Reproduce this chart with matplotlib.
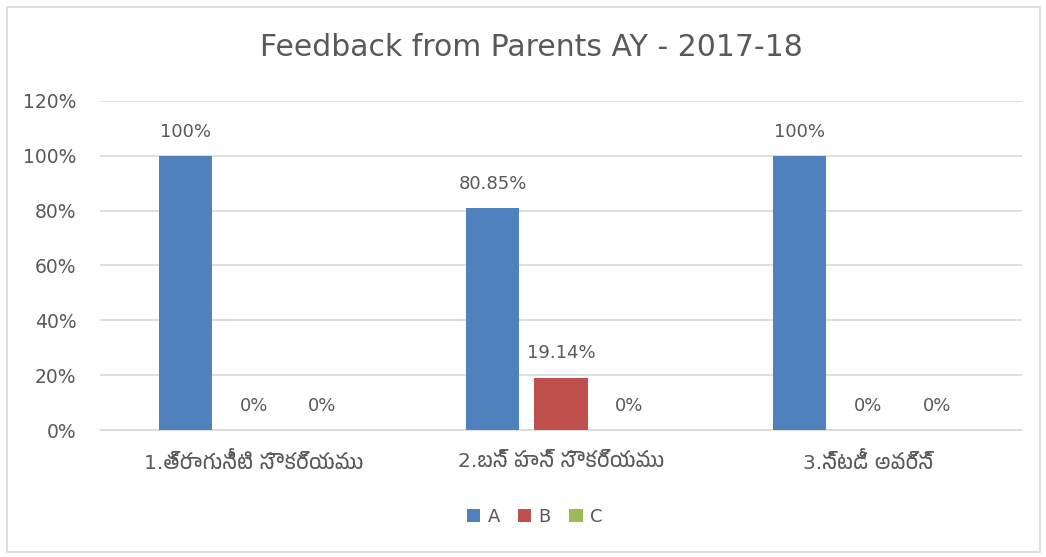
import matplotlib
matplotlib.use('Agg')
import matplotlib.pyplot as plt
from matplotlib import font_manager
from matplotlib.patches import Rectangle
import numpy as np

categories = ['1.త్రాగునీటి సౌకర్యము', '2.బస్ పాస్ సౌకర్యము', '3.స్టడీ అవర్స్']
series_names = ['A', 'B', 'C']
values_a = [100, 80.85, 100]
values_b = [0, 19.14, 0]
values_c = [0, 0, 0]
labels_a = ['100%', '80.85%', '100%']
labels_b = ['0%', '19.14%', '0%']
labels_c = ['0%', '0%', '0%']
yticks = [0, 20, 40, 60, 80, 100, 120]

colors = ['#4F81BD', '#C0504D', '#9BBB59']
txt = '#595959'

# look for any font that can draw Telugu
families = ['DejaVu Sans']
for f in font_manager.fontManager.ttflist:
    if any(k in f.name for k in ('Telugu', 'Gautami', 'Lohit', 'Pothana', 'Vemana')):
        if f.name not in families:
            families.append(f.name)
plt.rcParams['font.family'] = families

fig = plt.figure(figsize=(10.46, 5.57), dpi=100)
ax = fig.add_axes([0.0956, 0.228, 0.8814, 0.5907])

x = np.arange(len(categories))
w = 0.173
step = 0.223
all_vals = [values_a, values_b, values_c]
all_labels = [labels_a, labels_b, labels_c]
for i, (vals, labs) in enumerate(zip(all_vals, all_labels)):
    pos = x + (i - 1) * step
    ax.bar(pos, vals, w, color=colors[i], label=series_names[i], zorder=3)
    for p, v, l in zip(pos, vals, labs):
        ax.text(p, v + 5.5, l, ha='center', va='bottom', fontsize=13, color=txt)

ax.set_xlim(-0.5, 2.5)
ax.set_ylim(0, 120)
ax.set_yticks(yticks)
ax.set_yticklabels([f'{t}%' for t in yticks], fontsize=13.5, color=txt)
ax.set_xticks(x)
ax.set_xticklabels(categories, fontsize=14.5, color=txt)
ax.tick_params(axis='y', length=0, pad=17)
ax.tick_params(axis='x', length=0, pad=16)
ax.yaxis.grid(True, color='#D9D9D9', linewidth=1.2, zorder=0)
for s in ['left', 'right', 'top']:
    ax.spines[s].set_visible(False)
ax.spines['bottom'].set_color('#D9D9D9')
ax.spines['bottom'].set_linewidth(1.2)

fig.text(0.508, 0.915, 'Feedback from Parents AY - 2017-18', ha='center', va='center',
         fontsize=21.5, color=txt)

fig.legend(loc='center', bbox_to_anchor=(0.511, 0.072), ncol=3, frameon=False,
           fontsize=13, handlelength=0.75, handleheight=0.75, columnspacing=1.0,
           handletextpad=0.4, labelcolor=txt)

fig.patches.append(Rectangle((0.007, 0.009), 0.987, 0.978, transform=fig.transFigure,
                             fill=False, edgecolor='#D9D9D9', linewidth=1.2))

fig.savefig('out.png', dpi=100)
